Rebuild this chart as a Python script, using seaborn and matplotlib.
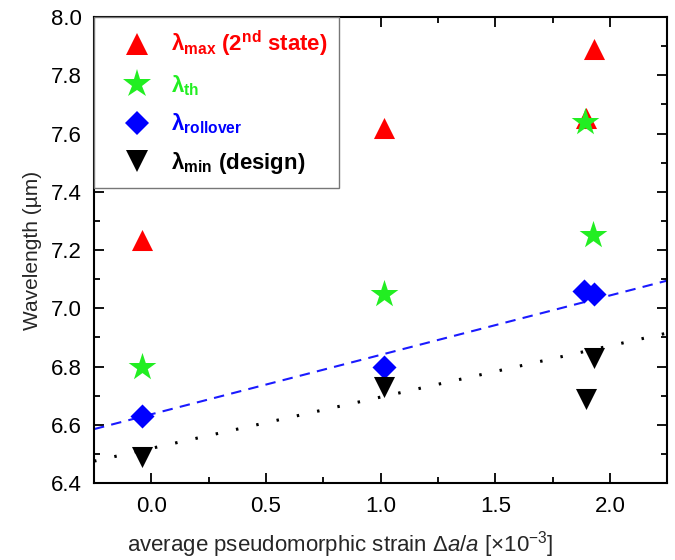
import matplotlib
matplotlib.use("Agg")
import matplotlib.pyplot as plt
import seaborn as sns
from matplotlib.lines import Line2D
from matplotlib.ticker import MultipleLocator, FormatStrFormatter

# ---- data ----
x_max = [-0.04, 1.015, 1.895, 1.93]
y_max = [7.235, 7.62, 7.655, 7.89]
x_th = [-0.04, 1.015, 1.893, 1.928]
y_th = [6.80, 7.05, 7.64, 7.25]
x_roll = [-0.04, 1.015, 1.887, 1.93]
y_roll = [6.63, 6.80, 7.06, 7.05]
x_min = [-0.04, 1.015, 1.894, 1.93]
y_min = [6.49, 6.73, 6.69, 6.83]
fit_roll_x = [-0.25, 2.25]
fit_roll_y = [6.585, 7.095]
fit_min_x = [-0.25, 2.25]
fit_min_y = [6.475, 6.915]

labels = [r'λ$_{\mathbf{max}}$ (2$^{\mathbf{nd}}$ state)',
          r'λ$_{\mathbf{th}}$',
          r'λ$_{\mathbf{rollover}}$',
          r'λ$_{\mathbf{min}}$ (design)']
colors = ['#ff0000', '#22ee22', '#0000ff', '#000000']

sns.set_style("ticks")
plt.rcParams['font.family'] = ['Liberation Sans', 'DejaVu Sans']
plt.rcParams['mathtext.fontset'] = 'custom'
plt.rcParams['mathtext.rm'] = 'Liberation Sans'
plt.rcParams['mathtext.bf'] = 'Liberation Sans:bold'
plt.rcParams['mathtext.it'] = 'Liberation Sans:italic'

fig = plt.figure(figsize=(6.75, 5.6), dpi=100)
ax = fig.add_axes([0.1393, 0.1375, 0.9886 - 0.1393, 0.9696 - 0.1375])

sns.lineplot(x=fit_roll_x, y=fit_roll_y, ax=ax, color='#1a1aff', lw=1.5,
             linestyle=(0, (5, 3.5)), zorder=1)
sns.lineplot(x=fit_min_x, y=fit_min_y, ax=ax, color='black', lw=2.2,
             linestyle=(0, (0.8, 6)), zorder=1)

sns.scatterplot(x=x_max, y=y_max, ax=ax, marker='^', s=230, color=colors[0], linewidth=0, zorder=3)
sns.scatterplot(x=x_th, y=y_th, ax=ax, marker='*', s=440, color=colors[1], linewidth=0, zorder=4)
sns.scatterplot(x=x_roll, y=y_roll, ax=ax, marker='D', s=150, color=colors[2], linewidth=0, zorder=5)
sns.scatterplot(x=x_min, y=y_min, ax=ax, marker='v', s=230, color=colors[3], linewidth=0, zorder=6)

ax.set_xlim(-0.25, 2.25)
ax.set_ylim(6.4, 8.0)
ax.xaxis.set_major_locator(MultipleLocator(0.5))
ax.xaxis.set_minor_locator(MultipleLocator(0.25))
ax.yaxis.set_major_locator(MultipleLocator(0.2))
ax.yaxis.set_minor_locator(MultipleLocator(0.1))
ax.xaxis.set_major_formatter(FormatStrFormatter('%.1f'))
ax.yaxis.set_major_formatter(FormatStrFormatter('%.1f'))
ax.tick_params(which='both', direction='in', top=True, right=True, width=1.3, colors='black')
ax.tick_params(which='major', length=7, labelsize=16, pad=9)
ax.tick_params(which='minor', length=4)
for sp in ax.spines.values():
    sp.set_visible(True)
    sp.set_linewidth(1.5)
    sp.set_color('black')

ax.set_xlabel(r'average pseudomorphic strain Δ$\mathit{a}$/$\mathit{a}$ [×10$^{-3}$]', fontsize=16)
ax.xaxis.set_label_coords(0.429, -0.098)
ax.set_ylabel('Wavelength (µm)', fontsize=15, labelpad=6)

markers = ['^', '*', 'D', 'v']
msizes = [15.5, 21, 12, 15.5]
handles = [Line2D([], [], linestyle='none', marker=m, color=c, markersize=ms, markeredgewidth=0)
           for m, c, ms in zip(markers, colors, msizes)]
leg = ax.legend(handles, labels, loc='upper left', borderaxespad=0, frameon=True,
                fancybox=False, edgecolor='#777777', framealpha=1,
                prop={'size': 16, 'weight': 'bold'}, labelspacing=0.62,
                handletextpad=0.15, borderpad=0.55, handlelength=2.75)
leg.get_frame().set_linewidth(1.0)
for t, c in zip(leg.get_texts(), colors):
    t.set_color(c)

fig.savefig('out.png', dpi=100)
